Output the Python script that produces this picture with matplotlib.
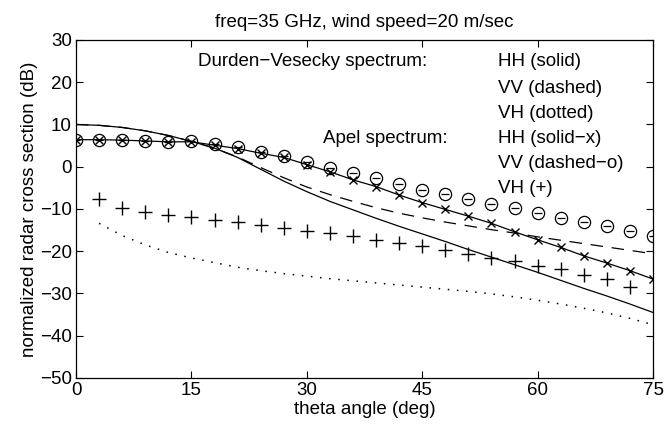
import numpy as np
import matplotlib
matplotlib.use("Agg")
import matplotlib.pyplot as plt

plt.rcParams['font.family'] = ['Liberation Sans', 'DejaVu Sans']

# Durden-Vesecky spectrum curves (theta in deg, sigma0 in dB)
theta_dv = [0, 3, 6, 9, 12, 15, 18, 21, 24, 27, 30, 33, 36, 39, 42, 45, 48, 51, 54, 57, 60, 63, 66, 69, 72, 75]
dv_hh = [10.0, 9.8, 9.3, 8.5, 7.4, 6.0, 4.4, 2.2, -0.6, -3.4, -5.9, -8.2, -10.2, -12.2, -14.1, -15.9, -17.7, -19.6, -21.4, -23.2, -25.0, -26.9, -28.8, -30.6, -32.5, -34.5]
dv_vv = [10.0, 9.8, 9.3, 8.5, 7.4, 6.0, 4.4, 2.3, -0.2, -2.6, -4.8, -6.6, -8.2, -9.7, -11.0, -12.1, -13.1, -14.0, -14.9, -15.7, -16.6, -17.4, -18.2, -19.0, -19.8, -20.6]
theta_dv_vh = [3, 6, 9, 12, 15, 18, 21, 24, 27, 30, 33, 36, 39, 42, 45, 48, 51, 54, 57, 60, 63, 66, 69, 72, 75]
dv_vh = [-13.4, -16.3, -18.5, -20.3, -21.6, -22.7, -23.8, -24.6, -25.3, -25.9, -26.5, -27.0, -27.5, -28.0, -28.5, -29.0, -29.5, -30.1, -30.8, -31.6, -32.5, -33.5, -34.6, -35.9, -37.4]

# Apel spectrum points
theta_ap = [0, 3, 6, 9, 12, 15, 18, 21, 24, 27, 30, 33, 36, 39, 42, 45, 48, 51, 54, 57, 60, 63, 66, 69, 72, 75]
ap_hh = [6.4, 6.4, 6.3, 6.1, 5.9, 5.9, 5.1, 4.3, 3.2, 2.2, 0.5, -1.2, -3.1, -4.7, -6.7, -8.5, -10.1, -11.7, -13.4, -15.4, -17.3, -19.1, -21.1, -22.8, -24.6, -26.6]
ap_vv = [6.4, 6.4, 6.3, 6.1, 5.9, 6.0, 5.4, 4.7, 3.6, 2.6, 1.2, -0.3, -1.6, -2.7, -4.0, -5.4, -6.5, -7.6, -8.8, -9.8, -11.0, -12.1, -13.0, -14.0, -15.1, -16.3]
theta_ap_vh = [3, 6, 9, 12, 15, 18, 21, 24, 27, 30, 33, 36, 39, 42, 45, 48, 51, 54, 57, 60, 63, 66, 69, 72]
ap_vh = [-7.7, -9.8, -10.8, -11.4, -12.0, -12.6, -13.2, -13.8, -14.6, -15.1, -15.7, -16.5, -17.3, -18.1, -18.7, -19.7, -20.6, -21.6, -22.2, -23.5, -24.3, -25.6, -26.6, -28.4]

xticks = [0, 15, 30, 45, 60, 75]
yticks = [-50, -40, -30, -20, -10, 0, 10, 20, 30]

fs = 13.5
fig = plt.figure(figsize=(6.64, 4.30), dpi=100)
ax = fig.add_axes([0.1145, 0.121, 0.869, 0.786])

ax.plot(theta_dv, dv_hh, '-', color='k', lw=0.9)
ax.plot(theta_dv, dv_vv, color='k', lw=0.9, dashes=(10, 7))
ax.plot(theta_dv_vh, dv_vh, color='k', lw=1.1, linestyle=(0, (1, 5)))
ax.plot(theta_ap, ap_hh, '-x', color='k', lw=0.9, ms=6, mew=1.0)
ax.plot(theta_ap, ap_vv, 'o', color='k', ms=8.8, mfc='none', mew=0.9, linestyle='none')
ax.plot(theta_ap, ap_vv, '_', color='k', ms=6, mew=0.9, linestyle='none')
ax.plot(theta_ap_vh, ap_vh, '+', color='k', ms=9.5, mew=1.0, linestyle='none')

ax.set_xlim(0, 75)
ax.set_ylim(-50, 30)
ax.set_xticks(xticks)
ax.set_yticks(yticks)
ax.tick_params(direction='in', top=True, right=True, labelsize=fs, length=5, width=0.8, pad=3)
for s in ax.spines.values():
    s.set_linewidth(0.9)

ax.set_title('freq=35 GHz, wind speed=20 m/sec', fontsize=fs, pad=9)
ax.set_xlabel('theta angle (deg)', fontsize=fs, labelpad=1)
ax.set_ylabel('normalized radar cross section (dB)', fontsize=fs, labelpad=1)

ty = [23.8, 17.5, 11.5, 5.6, -0.4, -6.3]
ax.text(15.9, ty[0], 'Durden\u2212Vesecky spectrum:', fontsize=fs, va='baseline')
ax.text(32.1, ty[3], 'Apel spectrum:', fontsize=fs, va='baseline')
labels = ['HH (solid)', 'VV (dashed)', 'VH (dotted)', 'HH (solid\u2212x)', 'VV (dashed\u2212o)', 'VH (+)']
for yy, lab in zip(ty, labels):
    ax.text(54.9, yy, lab, fontsize=fs, va='baseline')

fig.savefig('out.png', dpi=100)
